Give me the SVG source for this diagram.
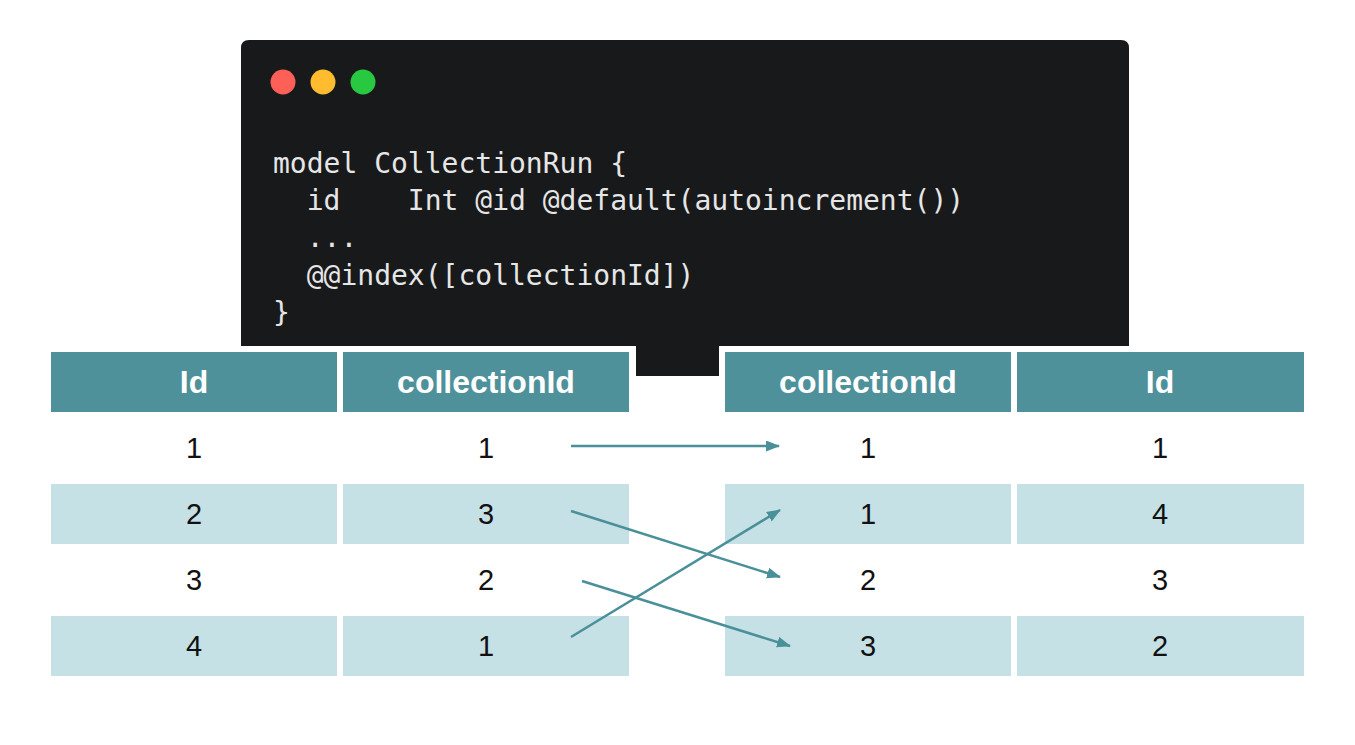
<svg xmlns="http://www.w3.org/2000/svg" width="1355" height="745" viewBox="0 0 1355 745">
<style>
.hd{fill:#4e919b}
.lt{fill:#c5e1e6}
.ht{font-family:"Liberation Sans",Arial,sans-serif;font-weight:bold;font-size:32px;fill:#ffffff;text-anchor:middle}
.ct{font-family:"Liberation Sans",Arial,sans-serif;font-size:29px;fill:#111111;text-anchor:middle}
.code{font-family:"DejaVu Sans Mono",monospace;font-size:28px;fill:#e6e6e6;white-space:pre}
.ar{stroke:#4a9099;stroke-width:2.5;fill:none;marker-end:url(#ah)}
</style>
<defs>
<marker id="ah" viewBox="0 0 14 11" refX="13" refY="5.5" markerWidth="14" markerHeight="11" markerUnits="userSpaceOnUse" orient="auto">
<path d="M0,0 L14,5.5 L0,11 Z" fill="#4a9099"/>
</marker>
</defs>
<rect width="1355" height="745" fill="#ffffff"/>
<g id="code-panel">
<path d="M249,40 H1121 Q1129,40 1129,48 V346 H719 V376 H636 V346 H241 V48 Q241,40 249,40 Z" fill="#18191b"/>
<circle cx="283" cy="82" r="12.5" fill="#fe5f57"/>
<circle cx="323" cy="82" r="12.5" fill="#febc2e"/>
<circle cx="363" cy="82" r="12.5" fill="#28c840"/>
<text class="code" x="273" y="173">model CollectionRun {</text>
<text class="code" x="273" y="210">  id    Int @id @default(autoincrement())</text>
<text class="code" x="273" y="247">  ...</text>
<text class="code" x="273" y="285">  @@index([collectionId])</text>
<text class="code" x="273" y="322">}</text>
</g>
<g id="left-table">
<rect class="hd" x="51" y="352" width="286" height="60"/>
<rect class="hd" x="343" y="352" width="286" height="60"/>
<text class="ht" x="194" y="393">Id</text>
<text class="ht" x="486" y="393">collectionId</text>
<rect class="lt" x="51" y="484" width="286" height="60"/>
<rect class="lt" x="343" y="484" width="286" height="60"/>
<rect class="lt" x="51" y="616" width="286" height="60"/>
<rect class="lt" x="343" y="616" width="286" height="60"/>
<text class="ct" x="194" y="458">1</text>
<text class="ct" x="486" y="458">1</text>
<text class="ct" x="194" y="524">2</text>
<text class="ct" x="486" y="524">3</text>
<text class="ct" x="194" y="590">3</text>
<text class="ct" x="486" y="590">2</text>
<text class="ct" x="194" y="656">4</text>
<text class="ct" x="486" y="656">1</text>
</g>
<g id="right-table">
<rect class="hd" x="725" y="352" width="286" height="60"/>
<rect class="hd" x="1017" y="352" width="287" height="60"/>
<text class="ht" x="868" y="393">collectionId</text>
<text class="ht" x="1160" y="393">Id</text>
<rect class="lt" x="725" y="484" width="286" height="60"/>
<rect class="lt" x="1017" y="484" width="287" height="60"/>
<rect class="lt" x="725" y="616" width="286" height="60"/>
<rect class="lt" x="1017" y="616" width="287" height="60"/>
<text class="ct" x="868" y="458">1</text>
<text class="ct" x="1160" y="458">1</text>
<text class="ct" x="868" y="524">1</text>
<text class="ct" x="1160" y="524">4</text>
<text class="ct" x="868" y="590">2</text>
<text class="ct" x="1160" y="590">3</text>
<text class="ct" x="868" y="656">3</text>
<text class="ct" x="1160" y="656">2</text>
</g>
<g id="connectors">
<line class="ar" x1="571" y1="446" x2="779" y2="446"/>
<line class="ar" x1="571" y1="511" x2="780" y2="577"/>
<line class="ar" x1="571" y1="637" x2="780" y2="510"/>
<line class="ar" x1="582" y1="581" x2="790" y2="646"/>
</g>
</svg>
